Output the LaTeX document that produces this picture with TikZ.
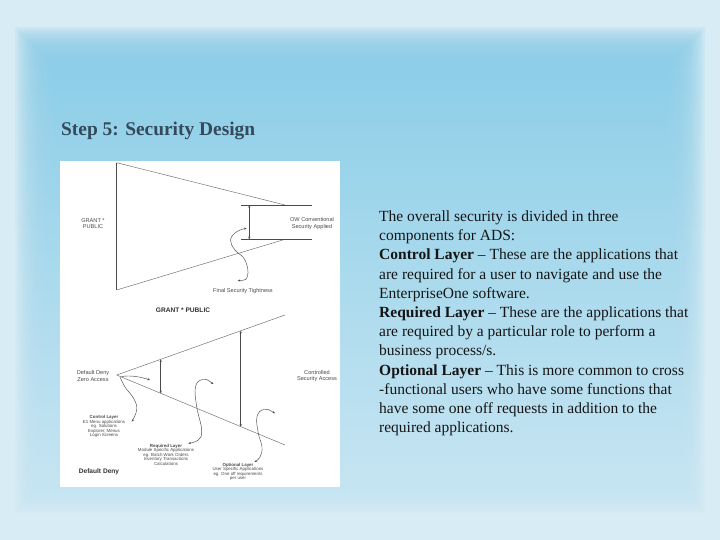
\documentclass[tikz,border=0pt]{standalone}
\usepackage{fontspec}
\setmainfont{Liberation Serif}
\newfontfamily\diagfont{Liberation Sans}
\usetikzlibrary{arrows.meta,calc}
\definecolor{bgouter}{HTML}{D8ECF5}
\definecolor{bgtop}{HTML}{8CCEE8}
\definecolor{bgbot}{HTML}{C6E5F2}
\definecolor{titlecol}{HTML}{34495A}
\definecolor{bodycol}{HTML}{151515}
\definecolor{linecol}{HTML}{4A4A4A}
\definecolor{slopecol}{HTML}{6A6A6A}
\tikzset{
  dline/.style={draw=linecol, line width=0.5pt},
  sline/.style={draw=slopecol, line width=0.45pt},
  squig/.style={draw=linecol, line width=0.45pt},
  tip/.tip={Stealth[length=2.6pt,width=2.2pt]},
  dlabel/.style={font=\diagfont\fontsize{5.6}{6.3}\selectfont, text=linecol, align=center, inner sep=0},
  smalltxt/.style={font=\diagfont\fontsize{4.4}{4.5}\selectfont, text=linecol, align=center, inner sep=0},
  boldlab/.style={font=\diagfont\bfseries\fontsize{6.6}{7}\selectfont, text=black!80, inner sep=0}
}
\begin{document}
\begin{tikzpicture}[x=1pt,y=-1pt]
\useasboundingbox (0,0) rectangle (720,540);
% background
\fill[bgouter] (0,0) rectangle (720,540);
\foreach \i in {0,...,19}{
  \shade[top color=bgtop,bottom color=bgbot,fill opacity=0.15]
    (15+2*\i,28+2*\i) rectangle (705-2*\i,512-2*\i);
}
% title
\node[anchor=base west, inner sep=0, font=\bfseries\fontsize{19.4}{21}\selectfont, text=titlecol] (title) at (61,136) {Step 5: Security Design};
% body text
\node[anchor=north west, inner sep=0, align=left, text=bodycol,
      font=\fontsize{15.5}{19.2}\selectfont] (body) at (379,210.5)
{The overall security is divided in three\\
components for ADS:\\
\textbf{Control Layer} -- These are the applications that\\
are required for a user to navigate and use the\\
EnterpriseOne software.\\
\textbf{Required Layer} -- These are the applications that\\
are required by a particular role to perform a\\
business process/s.\\
\textbf{Optional Layer} -- This is more common to cross\\
-functional users who have some functions that\\
have some one off requests in addition to the\\
required applications.};
% white panel
\fill[white] (60,161) rectangle (340,487);

% ---------- upper diagram ----------
\coordinate (tA) at (116.7,162.7);
\coordinate (tB) at (116.7,290);
\coordinate (tC) at (285,205);
\coordinate (tD) at (285,239.3);
\coordinate (h1L) at (241,205);
\coordinate (h1R) at (311.7,205);
\coordinate (h2L) at (241,239.3);
\coordinate (h2R) at (311.7,239.3);
\coordinate (v1T) at (249.3,205);
\coordinate (v1B) at (249.3,239.3);
\draw[dline] (tA) -- (tB);
\draw[sline] (tA) -- (tC);
\draw[sline] (tB) -- (tD);
\draw[dline] (h1L) -- (h1R);
\draw[dline] (h2L) -- (h2R);
\draw[dline,{tip}-{tip}] (v1T) -- (v1B);
\draw[squig,{tip}-{tip}] plot[smooth,tension=0.7] coordinates
  {(237.7,280.7) (247.5,276) (245,260) (235,250) (230.5,240) (236.7,231.7) (246.7,228.3)};
\node[dlabel] (grant1) at (93,223.5) {GRANT *\\PUBLIC};
\node[dlabel] (owconv) at (312,223.5) {OW Conventional\\Security Applied};
\node[dlabel] (final) at (243,291) {Final Security Tightness};

% ---------- lower diagram ----------
\node[boldlab] (grant2) at (183,310) {GRANT * PUBLIC};
\coordinate (apex) at (116.7,375);
\coordinate (ue) at (285,315);
\coordinate (le) at (285,445);
\draw[sline] (apex) -- (ue);
\draw[sline] (apex) -- (le);
\draw[dline,{tip}-{tip}] ($(apex)!0.2614!(ue)$) -- ($(apex)!0.2614!(le)$);
\draw[dline,{tip}-{tip}] ($(apex)!0.7368!(ue)$) -- ($(apex)!0.7368!(le)$);
\draw[squig,-{tip}] (121.5,376.5) .. controls (131,375) and (141,377) .. (150,380);
\draw[squig,-{tip}] plot[smooth,tension=0.7] coordinates
  {(120,377) (125,387) (134,399) (136.7,410) (131.7,421.7)};
\draw[squig,{tip}-{tip}] plot[smooth,tension=0.7] coordinates
  {(213.3,384) (203,379.5) (195.5,386.7) (196.7,406.7) (201.7,430) (198.3,440) (188.3,443.3)};
\draw[squig,{tip}-{tip}] plot[smooth,tension=0.7] coordinates
  {(275,413.3) (264,409.5) (257,416.7) (258.3,433.3) (262,447) (260,457) (254.5,462)};
\node[dlabel] (deflab) at (93,376) {Default Deny\\Zero Access};
\node[dlabel] (ctrlacc) at (317,376) {Controlled\\Security Access};
\node[smalltxt, anchor=north] (ctrl) at (104,415.5)
  {\textbf{Control Layer}\\E1 Menu applications\\eg. Solutions\\Explorer, Menus\\Login Screens};
\node[smalltxt, anchor=north] (req) at (166,444)
  {\textbf{Required Layer}\\Module Specific Applications\\eg. Batch Work Orders\\Inventory Transactions\\Calculations};
\node[smalltxt, anchor=north] (opt) at (238,463)
  {\textbf{Optional Layer}\\User Specific Applications\\eg. One off requirements\\per user};
\node[boldlab] (defdeny) at (99,471.7) {Default Deny};
\end{tikzpicture}
\end{document}
